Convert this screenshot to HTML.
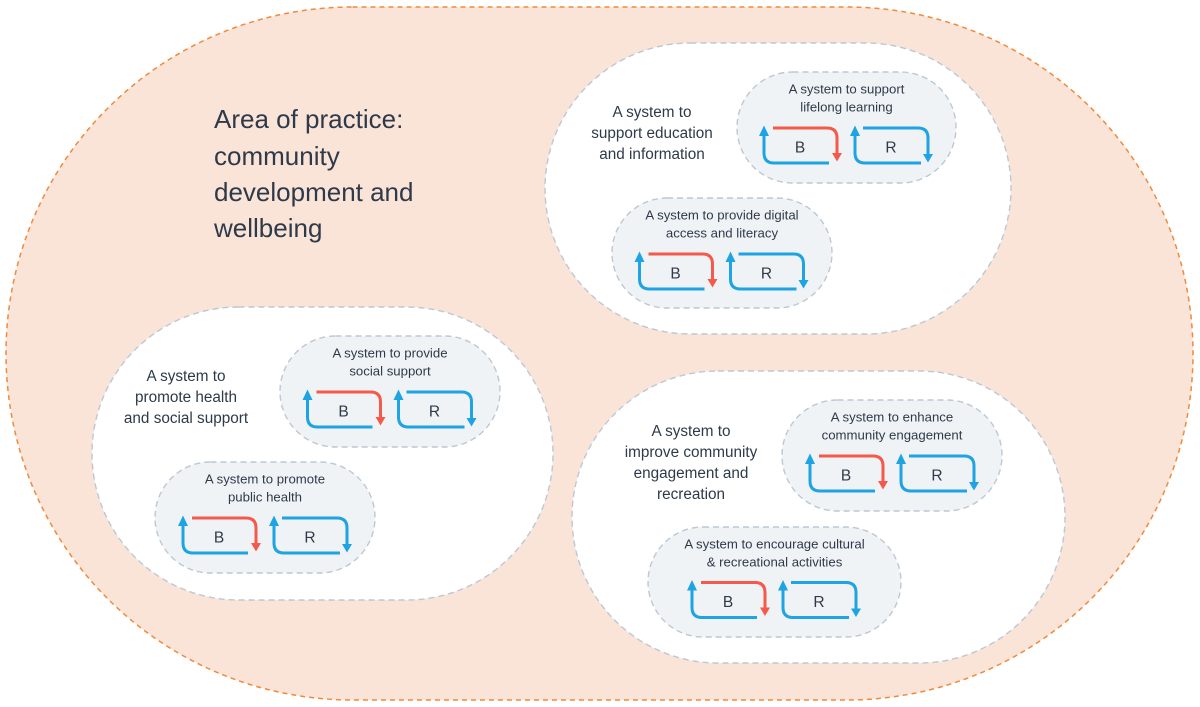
<!DOCTYPE html>
<html>
<head>
<meta charset="utf-8">
<style>
  html,body{margin:0;padding:0;background:#fff;}
  body{width:1200px;height:707px;overflow:hidden;}
  svg{display:block;}
  text{font-family:"Liberation Sans", Arial, sans-serif;fill:#2e3a49;}
  .t{font-size:26px;}
  .g{font-size:15.3px;text-anchor:middle;}
  .p{font-size:13.2px;text-anchor:middle;}
  .l{font-size:15.5px;text-anchor:middle;}
  .bl{stroke:#1ea3e3;stroke-width:3;fill:none;}
  .rd{stroke:#f5594b;stroke-width:3;fill:none;}
  .pill{fill:#f0f3f6;stroke:#bcc8d4;stroke-width:1.4;stroke-dasharray:6 4;}
  .grp{fill:#ffffff;stroke:#bcc8d4;stroke-width:1.4;stroke-dasharray:6 4;}
</style>
</head>
<body>
<svg width="1200" height="707" viewBox="0 0 1200 707" xmlns="http://www.w3.org/2000/svg">
  <!-- outer area -->
  <rect x="6" y="7" width="1187" height="693" rx="346.5" ry="346.5" fill="#f9e4d7" stroke="#f08a3c" stroke-width="1.5" stroke-dasharray="5 4"/>

  <!-- title -->
  <text class="t" x="214" y="128">Area of practice:</text>
  <text class="t" x="214" y="165">community</text>
  <text class="t" x="214" y="201">development and</text>
  <text class="t" x="214" y="237">wellbeing</text>

  <!-- groups -->
  <rect class="grp" x="545" y="43" width="466" height="291" rx="145.5" ry="145.5"/>
  <rect class="grp" x="92" y="307" width="461" height="293" rx="146.5" ry="146.5"/>
  <rect class="grp" x="572" y="371" width="493" height="292" rx="146" ry="146"/>

  <!-- group labels -->
  <text class="g" x="652" y="117">A system to</text>
  <text class="g" x="652" y="138">support education</text>
  <text class="g" x="652" y="159">and information</text>

  <text class="g" x="186" y="381">A system to</text>
  <text class="g" x="186" y="402">promote health</text>
  <text class="g" x="186" y="423">and social support</text>

  <text class="g" x="691" y="436">A system to</text>
  <text class="g" x="691" y="457">improve community</text>
  <text class="g" x="691" y="478">engagement and</text>
  <text class="g" x="691" y="499">recreation</text>

  <!-- pills -->
  <rect class="pill" x="737" y="72" width="219" height="111" rx="55.5" ry="55.5"/>
  <rect class="pill" x="612" y="198" width="220" height="110" rx="55" ry="55"/>
  <rect class="pill" x="280" y="336" width="220" height="111" rx="55.5" ry="55.5"/>
  <rect class="pill" x="155" y="462" width="220" height="111" rx="55.5" ry="55.5"/>
  <rect class="pill" x="782" y="400" width="220" height="111" rx="55.5" ry="55.5"/>
  <rect class="pill" x="648" y="527" width="253" height="110" rx="55" ry="55"/>

  <!-- pill titles -->
  <text class="p" x="846.5" y="93.5">A system to support</text>
  <text class="p" x="846.5" y="111.5">lifelong learning</text>

  <text class="p" x="722" y="219.5">A system to provide digital</text>
  <text class="p" x="722" y="237.5">access and literacy</text>

  <text class="p" x="390" y="357.5">A system to provide</text>
  <text class="p" x="390" y="375.5">social support</text>

  <text class="p" x="265" y="483.5">A system to promote</text>
  <text class="p" x="265" y="501.5">public health</text>

  <text class="p" x="892" y="421.5">A system to enhance</text>
  <text class="p" x="892" y="439.5">community engagement</text>

  <text class="p" x="774.5" y="548.5">A system to encourage cultural</text>
  <text class="p" x="774.5" y="566.5">&amp; recreational activities</text>

  <!-- loops: lifelong -->
  <g transform="translate(764,128)">
    <path class="bl" d="M0,7 V25 Q0,35 10,35 H65"/>
    <polygon points="-5,8 5,8 0,-2.5" fill="#1ea3e3"/>
    <path class="rd" d="M9,0 H63 Q73,0 73,10 V25"/>
    <polygon points="68,25 78,25 73,33.5" fill="#f5594b"/>
    <text class="l" x="36" y="24.5">B</text>
    <g transform="translate(91,0)">
      <path class="bl" d="M0,7 V25 Q0,35 10,35 H66"/>
      <polygon points="-5,8 5,8 0,-2.5" fill="#1ea3e3"/>
      <path class="bl" d="M8,0 H63 Q73,0 73,10 V26"/>
      <polygon points="68,26 78,26 73,34.5" fill="#1ea3e3"/>
      <text class="l" x="36" y="24.5">R</text>
    </g>
  </g>

  <!-- loops: digital -->
  <g transform="translate(639.5,254)">
    <path class="bl" d="M0,7 V25 Q0,35 10,35 H65"/>
    <polygon points="-5,8 5,8 0,-2.5" fill="#1ea3e3"/>
    <path class="rd" d="M9,0 H63 Q73,0 73,10 V25"/>
    <polygon points="68,25 78,25 73,33.5" fill="#f5594b"/>
    <text class="l" x="36" y="24.5">B</text>
    <g transform="translate(91,0)">
      <path class="bl" d="M0,7 V25 Q0,35 10,35 H66"/>
      <polygon points="-5,8 5,8 0,-2.5" fill="#1ea3e3"/>
      <path class="bl" d="M8,0 H63 Q73,0 73,10 V26"/>
      <polygon points="68,26 78,26 73,34.5" fill="#1ea3e3"/>
      <text class="l" x="36" y="24.5">R</text>
    </g>
  </g>

  <!-- loops: social support -->
  <g transform="translate(307.5,392)">
    <path class="bl" d="M0,7 V25 Q0,35 10,35 H65"/>
    <polygon points="-5,8 5,8 0,-2.5" fill="#1ea3e3"/>
    <path class="rd" d="M9,0 H63 Q73,0 73,10 V25"/>
    <polygon points="68,25 78,25 73,33.5" fill="#f5594b"/>
    <text class="l" x="36" y="24.5">B</text>
    <g transform="translate(91,0)">
      <path class="bl" d="M0,7 V25 Q0,35 10,35 H66"/>
      <polygon points="-5,8 5,8 0,-2.5" fill="#1ea3e3"/>
      <path class="bl" d="M8,0 H63 Q73,0 73,10 V26"/>
      <polygon points="68,26 78,26 73,34.5" fill="#1ea3e3"/>
      <text class="l" x="36" y="24.5">R</text>
    </g>
  </g>

  <!-- loops: public health -->
  <g transform="translate(183,518)">
    <path class="bl" d="M0,7 V25 Q0,35 10,35 H65"/>
    <polygon points="-5,8 5,8 0,-2.5" fill="#1ea3e3"/>
    <path class="rd" d="M9,0 H63 Q73,0 73,10 V25"/>
    <polygon points="68,25 78,25 73,33.5" fill="#f5594b"/>
    <text class="l" x="36" y="24.5">B</text>
    <g transform="translate(91,0)">
      <path class="bl" d="M0,7 V25 Q0,35 10,35 H66"/>
      <polygon points="-5,8 5,8 0,-2.5" fill="#1ea3e3"/>
      <path class="bl" d="M8,0 H63 Q73,0 73,10 V26"/>
      <polygon points="68,26 78,26 73,34.5" fill="#1ea3e3"/>
      <text class="l" x="36" y="24.5">R</text>
    </g>
  </g>

  <!-- loops: enhance -->
  <g transform="translate(810,456)">
    <path class="bl" d="M0,7 V25 Q0,35 10,35 H65"/>
    <polygon points="-5,8 5,8 0,-2.5" fill="#1ea3e3"/>
    <path class="rd" d="M9,0 H63 Q73,0 73,10 V25"/>
    <polygon points="68,25 78,25 73,33.5" fill="#f5594b"/>
    <text class="l" x="36" y="24.5">B</text>
    <g transform="translate(91,0)">
      <path class="bl" d="M0,7 V25 Q0,35 10,35 H66"/>
      <polygon points="-5,8 5,8 0,-2.5" fill="#1ea3e3"/>
      <path class="bl" d="M8,0 H63 Q73,0 73,10 V26"/>
      <polygon points="68,26 78,26 73,34.5" fill="#1ea3e3"/>
      <text class="l" x="36" y="24.5">R</text>
    </g>
  </g>

  <!-- loops: cultural -->
  <g transform="translate(692,582.5)">
    <path class="bl" d="M0,7 V25 Q0,35 10,35 H65"/>
    <polygon points="-5,8 5,8 0,-2.5" fill="#1ea3e3"/>
    <path class="rd" d="M9,0 H63 Q73,0 73,10 V25"/>
    <polygon points="68,25 78,25 73,33.5" fill="#f5594b"/>
    <text class="l" x="36" y="24.5">B</text>
    <g transform="translate(91,0)">
      <path class="bl" d="M0,7 V25 Q0,35 10,35 H66"/>
      <polygon points="-5,8 5,8 0,-2.5" fill="#1ea3e3"/>
      <path class="bl" d="M8,0 H63 Q73,0 73,10 V26"/>
      <polygon points="68,26 78,26 73,34.5" fill="#1ea3e3"/>
      <text class="l" x="36" y="24.5">R</text>
    </g>
  </g>
</svg>
</body>
</html>
